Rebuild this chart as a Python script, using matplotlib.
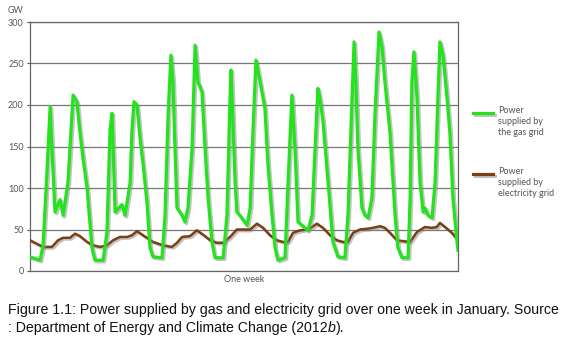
import matplotlib
matplotlib.use('Agg')
import matplotlib.pyplot as plt
import matplotlib.patheffects as pe
from matplotlib.lines import Line2D

# hours through the week, and GW
gas_hours = [0, 3.9, 5.1, 6.5, 7.9, 8.6, 9.8, 11.8, 13.0, 14.9, 16.9, 18.4, 19.6, 20.8, 22.4,
             24.3, 25.5, 28.7, 30.2, 31.4, 32.2, 33.4, 36.1, 37.3, 39.3, 40.0, 40.8, 42.0, 43.2,
             44.4, 45.9, 47.1, 48.3, 51.8, 53.0, 54.2, 55.3, 56.1, 56.9, 57.7, 59.7, 60.8, 62.0,
             63.6, 64.8, 65.9, 67.5, 68.7, 69.9, 71.4, 72.6, 75.8, 77.3, 78.5, 78.9, 80.5, 81.2,
             82.4, 85.2, 86.4, 87.5, 88.7, 90.3, 92.2, 93.4, 95.0, 96.2, 97.3, 100.1, 101.3,
             102.8, 104.0, 105.2, 106.8, 107.9, 109.1, 110.7, 111.9, 113.0, 113.8, 115.0, 117.0,
             118.9, 120.9, 123.6, 124.8, 126.4, 127.2, 127.9, 128.7, 130.3, 131.5, 132.7, 134.2,
             135.4, 137.0, 138.2, 139.3, 141.3, 143.3, 144.4, 146.0, 148.4, 149.2, 149.9, 150.7,
             151.9, 153.1, 154.3, 155.0, 156.2, 157.8, 159.0, 160.1, 160.9, 162.1, 163.7, 164.8,
             166.0, 167.6, 168]
gas_gw = [17, 13, 30, 110, 198, 148, 71, 86, 67, 107, 212, 204, 167, 136, 100,
          28, 13, 13, 47, 170, 190, 71, 80, 67, 107, 168, 204, 200, 160,
          128, 83, 28, 17, 16, 67, 188, 260, 228, 148, 76, 67, 59, 76,
          148, 272, 228, 216, 148, 88, 35, 16, 16, 67, 208, 242, 107, 71,
          67, 55, 76, 167, 254, 228, 196, 128, 67, 28, 13, 16, 107,
          212, 148, 59, 55, 52, 49, 67, 148, 220, 208, 180, 107,
          35, 17, 16, 67, 208, 276, 228, 148, 76, 67, 64, 88,
          188, 288, 269, 228, 167, 67, 28, 16, 16, 88, 228, 264,
          208, 107, 71, 76, 67, 64, 107, 208, 276, 260, 208, 167,
          88, 35, 25]

elec_hours = [0, 5.1, 8.6, 11.0, 13.0, 15.7, 17.7, 19.6, 22.4, 24.7, 27.5, 30.2, 32.6, 35.3,
              38.1, 40.0, 42.0, 44.4, 48.3, 52.2, 55.7, 57.7, 59.7, 62.8, 65.5, 68.7, 70.7,
              73.4, 75.8, 78.5, 81.2, 83.6, 86.4, 89.1, 91.5, 94.2, 96.9, 99.3, 101.3, 103.2,
              106.0, 108.7, 110.7, 112.6, 115.0, 117.8, 120.5, 122.9, 124.8, 126.8, 129.5,
              132.7, 134.6, 137.4, 139.3, 141.3, 144.0, 146.4, 149.2, 151.9, 155.0, 157.8,
              159.7, 160.9, 162.9, 165.6, 168]
elec_gw = [37, 29, 29, 37, 40, 40, 45, 42, 35, 31, 29, 31, 37, 41,
           41, 43, 48, 43, 35, 31, 29, 34, 41, 42, 49, 42, 37,
           34, 34, 41, 50, 50, 50, 57, 52, 43, 37, 35, 35, 46,
           49, 50, 53, 57, 52, 43, 37, 35, 35, 46, 50,
           51, 52, 54, 52, 46, 37, 36, 35, 47, 53, 52,
           53, 58, 53, 46, 37]

y_ticks = [0, 50, 100, 150, 200, 250, 300]

GREEN = '#22e31c'
BROWN = '#7b3f12'
GREY = '#555555'
shadow = [pe.SimpleLineShadow(offset=(1.2, -1.2), shadow_color='#888888', alpha=0.5), pe.Normal()]

fig = plt.figure(figsize=(5.75, 3.56), dpi=100, facecolor='white')
ax = fig.add_axes([30 / 575, 1 - 271 / 356, 428 / 575, 249 / 356])

ax.plot(elec_hours, elec_gw, color=BROWN, lw=1.8, solid_joinstyle='round', path_effects=shadow, zorder=3)
ax.plot(gas_hours, gas_gw, color=GREEN, lw=2.3, solid_joinstyle='round', path_effects=shadow, zorder=4)

ax.set_xlim(0, 168)
ax.set_ylim(0, 300)
ax.set_xticks([])
ax.set_yticks(y_ticks)
ax.set_yticklabels([str(t) for t in y_ticks], fontsize=6.5, color=GREY, family='Lato')
ax.tick_params(axis='y', length=2.5, width=0.8, color=GREY, pad=2)
ax.yaxis.grid(True, color='#777777', lw=0.9)
ax.set_axisbelow(True)
for s in ax.spines.values():
    s.set_color('#666666')
    s.set_linewidth(0.9)

ax.set_xlabel('One week', fontsize=6.5, color=GREY, family='Lato', labelpad=3)
ax.text(-0.052, 1.048, 'GW', transform=ax.transAxes, fontsize=6.5, color=GREY,
        family='Lato', ha='left', va='center')

# legend drawn by hand so the handle sits on the first text line
legend_items = [(0.635, GREEN, 'Power\nsupplied by\nthe gas grid'),
                (0.39, BROWN, 'Power\nsupplied by\nelectricity grid')]
for y, c, label in legend_items:
    ax.add_line(Line2D([1.035, 1.082], [y, y], transform=ax.transAxes, color=c, lw=2.3,
                       clip_on=False, path_effects=shadow))
    ax.text(1.093, y + 0.027, label, transform=ax.transAxes, fontsize=6.5, color=GREY,
            family='Lato', ha='left', va='top', linespacing=1.3)

cap = {'fontsize': 10.2, 'color': '#111111', 'family': 'Liberation Sans'}
fig.text(8 / 575, 1 - 310 / 356,
         'Figure 1.1: Power supplied by gas and electricity grid over one week in January. Source',
         va='center', ha='left', **cap)
t1 = fig.text(8 / 575, 1 - 328 / 356, ': Department of Energy and Climate Change (2012',
              va='center', ha='left', **cap)
t2 = ax.annotate('b', xy=(1, 0), xycoords=t1, va='bottom', ha='left', style='italic',
                 annotation_clip=False, **cap)
ax.annotate(').', xy=(1, 0), xycoords=t2, va='bottom', ha='left', annotation_clip=False, **cap)

fig.savefig('out.png', dpi=100, facecolor='white')
